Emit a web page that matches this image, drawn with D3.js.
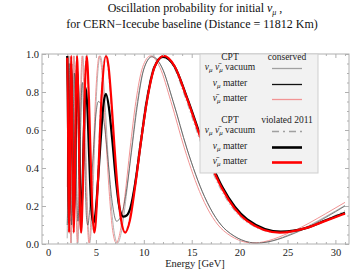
<!DOCTYPE html>
<html>
<head>
<meta charset="utf-8">
<script src="https://cdn.jsdelivr.net/npm/d3@7"></script>
<style>
  body { margin: 0; background: #fff; }
  svg { display: block; font-family: "Liberation Serif", "Times New Roman", serif; }
  svg text { font-family: "Liberation Serif", "Times New Roman", serif; }
</style>
</head>
<body>
<div id="chart"></div>
<script>
// tick labels
const xTicks = [0, 5, 10, 15, 20, 25, 30];
const yTicks = [0, 0.2, 0.4, 0.6, 0.8, 1.0];

// [energy GeV, probability]
const vacuumConserved = [[2.0,.03],[2.04,.25],[2.11,.75],[2.18,.99],[2.25,.75],[2.33,.25],[2.42,.005],[2.51,.25],[2.61,.75],[2.72,.99],[2.84,.75],[2.97,.25],[3.11,.005],[3.27,.25],[3.44,.75],[3.63,.99],[3.84,.75],[4.08,.25],[4.35,.005],[4.67,.25],[5.02,.75],[5.44,.99],[5.68,.93],[5.94,.75],[6.22,.5],[6.53,.25],[6.88,.07],[7.26,.005],[7.68,.07],[8.16,.25],[8.71,.5],[9.33,.75],[10.05,.93],[10.89,.99],[11.88,.93],[13.06,.75],[14.51,.5],[16.33,.25],[18.66,.07],[21.77,.005],[26.13,.07],[29,.145],[31,.203]];
const antiConserved = [[2.01,.3],[2.07,.75],[2.14,.99],[2.21,.75],[2.29,.25],[2.38,.005],[2.47,.25],[2.57,.75],[2.67,.99],[2.79,.75],[2.92,.25],[3.06,.005],[3.21,.25],[3.38,.75],[3.565,.99],[3.775,.75],[4.01,.25],[4.28,.005],[4.58,.25],[4.94,.75],[5.35,.99],[5.58,.93],[5.83,.75],[6.11,.5],[6.42,.25],[6.75,.07],[7.13,.005],[7.55,.07],[8.02,.25],[8.56,.5],[9.17,.75],[9.87,.93],[10.7,.99],[11.67,.93],[12.83,.75],[14.26,.5],[16.04,.25],[18.33,.07],[21.39,.005],[25.67,.07],[29,.16],[31,.219]];
const nuConserved = [[2.0,.1],[2.05,.2],[2.12,.6],[2.2,.95],[2.28,.8],[2.36,.35],[2.45,.1],[2.55,.3],[2.65,.7],[2.76,.9],[2.87,.7],[3.0,.3],[3.12,.12],[3.25,.25],[3.38,.55],[3.5,.8],[3.6,.85],[3.7,.7],[3.85,.4],[4.0,.15],[4.15,.1],[4.3,.15],[4.5,.3],[4.75,.5],[5.0,.68],[5.25,.75],[5.5,.74],[5.9,.62],[6.3,.42],[6.7,.22],[7.15,.12],[7.65,.15],[8.15,.27],[8.7,.48],[9.3,.72],[10.0,.92],[10.85,.985],[11.88,.93],[13.06,.75],[14.51,.5],[16.33,.25],[18.66,.07],[21.77,.005],[26.13,.065],[29,.14],[31,.2]];
const vacuumViolated = [[2.0,.95],[2.05,.765],[2.11,.295],[2.18,.06],[2.24,.295],[2.32,.765],[2.39,.99],[2.48,.765],[2.56,.295],[2.66,.06],[2.76,.295],[2.87,.765],[2.99,.99],[3.12,.765],[3.26,.295],[3.42,.06],[3.59,.295],[3.78,.765],[3.99,.99],[4.22,.765],[4.49,.295],[4.79,.06],[5.13,.295],[5.52,.765],[5.98,.99],[6.24,.937],[6.53,.765],[6.84,.53],[7.18,.295],[7.56,.123],[7.98,.06],[8.45,.123],[8.98,.295],[9.575,.53],[10.26,.765],[11.05,.937],[11.97,.99],[13.06,.937],[14.36,.765],[15.96,.53],[17.95,.295],[20.52,.123],[23.94,.06],[28.72,.123],[31,.175]];
const nuViolated = [[2.0,.99],[2.06,.8],[2.13,.35],[2.2,.12],[2.27,.3],[2.34,.7],[2.42,.95],[2.5,.75],[2.6,.3],[2.7,.15],[2.8,.3],[2.92,.7],[3.03,.92],[3.15,.8],[3.28,.45],[3.4,.2],[3.5,.18],[3.65,.4],[3.8,.7],[3.95,.82],[4.1,.72],[4.3,.45],[4.5,.2],[4.73,.11],[4.95,.16],[5.2,.32],[5.5,.55],[5.8,.74],[6.05,.79],[6.35,.72],[6.7,.55],[7.1,.33],[7.5,.18],[7.86,.144],[8.2,.15],[8.6,.19],[9.1,.32],[9.65,.52],[10.3,.75],[11.1,.93],[12.0,.985],[13.2,.935],[14.55,.765],[16.2,.53],[18.2,.3],[20.8,.13],[24.3,.065],[27,.085],[29,.125],[31,.165]];
const antiViolated = [[2.0,.98],[2.07,.765],[2.135,.295],[2.2,.06],[2.27,.295],[2.34,.765],[2.42,.99],[2.5,.765],[2.59,.295],[2.69,.06],[2.79,.295],[2.9,.765],[3.024,.99],[3.155,.765],[3.3,.295],[3.456,.06],[3.63,.295],[3.82,.765],[4.03,.99],[4.27,.765],[4.54,.295],[4.84,.06],[5.18,.295],[5.58,.765],[6.05,.99],[6.31,.937],[6.6,.765],[6.91,.53],[7.26,.295],[7.64,.123],[8.06,.06],[8.54,.123],[9.07,.295],[9.68,.53],[10.37,.765],[11.165,.937],[12.1,.99],[13.2,.937],[14.515,.765],[16.13,.53],[18.14,.295],[20.74,.123],[24.19,.06],[27,.085],[29.03,.123],[31,.16]];

const width = 363, height = 272;
const mLeft = 42, mRight = 349, mTop = 54, mBottom = 244;

const svg = d3.select('#chart').append('svg')
  .attr('width', width)
  .attr('height', height);

const x = d3.scaleLinear().domain([-0.63, 31.42]).range([mLeft, mRight]);
const y = d3.scaleLinear().domain([0, 1]).range([mBottom, mTop]);

// title
const title = svg.append('text')
  .attr('x', 195).attr('y', 12)
  .attr('text-anchor', 'middle')
  .attr('font-size', 12).attr('fill', '#111');
title.append('tspan').text('Oscillation probability for initial  ');
title.append('tspan').attr('font-style', 'italic').text('ν');
title.append('tspan').attr('font-size', 8).attr('dy', 2.5).attr('font-style', 'italic').text('μ');
title.append('tspan').attr('dy', -2.5).text(' ,');

svg.append('text')
  .attr('x', 192).attr('y', 28)
  .attr('text-anchor', 'middle')
  .attr('font-size', 12).attr('fill', '#111')
  .text('for CERN\u2212Icecube baseline  (Distance = 11812 Km)');

// curves
svg.append('clipPath').attr('id', 'plotclip')
  .append('rect')
  .attr('x', mLeft).attr('y', mTop)
  .attr('width', mRight - mLeft).attr('height', mBottom - mTop);

const line = d3.line()
  .x(d => x(d[0]))
  .y(d => y(d[1]))
  .curve(d3.curveMonotoneX);

const curves = [
  { data: vacuumConserved, color: '#a0a0a0', w: 0.8, dash: null },
  { data: antiConserved, color: '#f29494', w: 1, dash: null },
  { data: nuConserved, color: '#4a4a4a', w: 0.7, dash: null },
  { data: vacuumViolated, color: '#a0a0a0', w: 0.8, dash: '6,2.5,1.5,2.5' },
  { data: nuViolated, color: '#000', w: 2.2, dash: null },
  { data: antiViolated, color: '#ff0000', w: 2.2, dash: null },
];

const plot = svg.append('g').attr('clip-path', 'url(#plotclip)');
curves.forEach(c => {
  plot.append('path')
    .attr('d', line(c.data))
    .attr('fill', 'none')
    .attr('stroke', c.color)
    .attr('stroke-width', c.w)
    .attr('stroke-dasharray', c.dash);
});

// frame + inward ticks
svg.append('rect')
  .attr('x', mLeft).attr('y', mTop)
  .attr('width', mRight - mLeft).attr('height', mBottom - mTop)
  .attr('fill', 'none').attr('stroke', '#b0b0b0').attr('stroke-width', 1);

const xMinor = d3.range(0, 32, 1).filter(v => v % 5 !== 0);
const yMinor = d3.range(0, 1.001, 0.05).filter((v, i) => i % 4 !== 0);

function frameAxis(axisFn, scale, values, size, transform, labels, pad) {
  const g = svg.append('g').attr('transform', transform)
    .call(axisFn(scale).tickValues(values).tickSize(-size).tickPadding(pad)
      .tickFormat(labels ? labels : ''));
  g.attr('font-family', null);
  g.select('.domain').remove();
  g.selectAll('line').attr('stroke', '#b0b0b0');
  g.selectAll('text').attr('font-size', 10.5).attr('fill', '#222');
  return g;
}

frameAxis(d3.axisBottom, x, xTicks, 4, `translate(0,${mBottom})`, d3.format('d'), 5);
frameAxis(d3.axisBottom, x, xMinor, 2, `translate(0,${mBottom})`, null, 5);
frameAxis(d3.axisTop, x, xTicks, 4, `translate(0,${mTop})`, null, 5);
frameAxis(d3.axisTop, x, xMinor, 2, `translate(0,${mTop})`, null, 5);
frameAxis(d3.axisLeft, y, yTicks, 4, `translate(${mLeft},0)`, d3.format('.1f'), 3);
frameAxis(d3.axisLeft, y, yMinor, 2, `translate(${mLeft},0)`, null, 3);
frameAxis(d3.axisRight, y, yTicks, 4, `translate(${mRight},0)`, null, 3);
frameAxis(d3.axisRight, y, yMinor, 2, `translate(${mRight},0)`, null, 3);

svg.append('text')
  .attr('x', 195).attr('y', 267)
  .attr('text-anchor', 'middle')
  .attr('font-size', 10.5).attr('fill', '#222')
  .text('Energy [GeV]');

// legend
const lg = svg.append('g');
lg.append('rect')
  .attr('x', 200).attr('y', mTop)
  .attr('width', 118).attr('height', 119)
  .attr('fill', '#f2f2f2').attr('stroke', '#cfcfcf').attr('stroke-width', 1);

function nuLabel(sel, parts) {
  parts.forEach(p => {
    const t = sel.append('tspan').text(p[0]);
    if (p[1] === 'nu') t.attr('font-style', 'italic');
    if (p[1] === 'sub') t.attr('font-style', 'italic').attr('font-size', 7).attr('dy', 2);
    if (p[1] === 'back') t.attr('dy', -2);
  });
}

const legendRows = [
  { yb: 60, head: ['CPT', 'conserved'] },
  { yb: 70, parts: [['ν','nu'],['μ','sub'],[' ','back'],['ν\u0304','nu'],['μ','sub'],['  vacuum','back']], c: curves[0] },
  { yb: 86, parts: [['ν','nu'],['μ','sub'],['  matter','back']], c: curves[2] },
  { yb: 101, parts: [['ν\u0304','nu'],['μ','sub'],['  matter','back']], c: curves[1] },
  { yb: 123, head: ['CPT', 'violated  2011'] },
  { yb: 133, parts: [['ν','nu'],['μ','sub'],[' ','back'],['ν\u0304','nu'],['μ','sub'],['  vacuum','back']], c: curves[3] },
  { yb: 149, parts: [['ν','nu'],['μ','sub'],['  matter','back']], c: curves[4] },
  { yb: 164, parts: [['ν\u0304','nu'],['μ','sub'],['  matter','back']], c: curves[5] },
];

legendRows.forEach(r => {
  if (r.head) {
    lg.append('text').attr('x', 230).attr('y', r.yb).attr('text-anchor', 'middle')
      .attr('font-size', 9.5).attr('fill', '#222').text(r.head[0]);
    lg.append('text').attr('x', 287).attr('y', r.yb).attr('text-anchor', 'middle')
      .attr('font-size', 9.5).attr('fill', '#222').text(r.head[1]);
  } else {
    const t = lg.append('text').attr('x', 230).attr('y', r.yb).attr('text-anchor', 'middle')
      .attr('font-size', 9.5).attr('fill', '#222');
    nuLabel(t, r.parts);
    const w = r.c.w > 2 ? 2.6 : 1.3;
    lg.append('line')
      .attr('x1', 272).attr('x2', 302)
      .attr('y1', r.yb - 1.5).attr('y2', r.yb - 1.5)
      .attr('stroke', r.c.color === '#4a4a4a' ? '#111' : r.c.color).attr('stroke-width', w)
      .attr('stroke-dasharray', r.c.dash ? '7,4,2,4' : null);
  }
});
</script>
</body>
</html>
